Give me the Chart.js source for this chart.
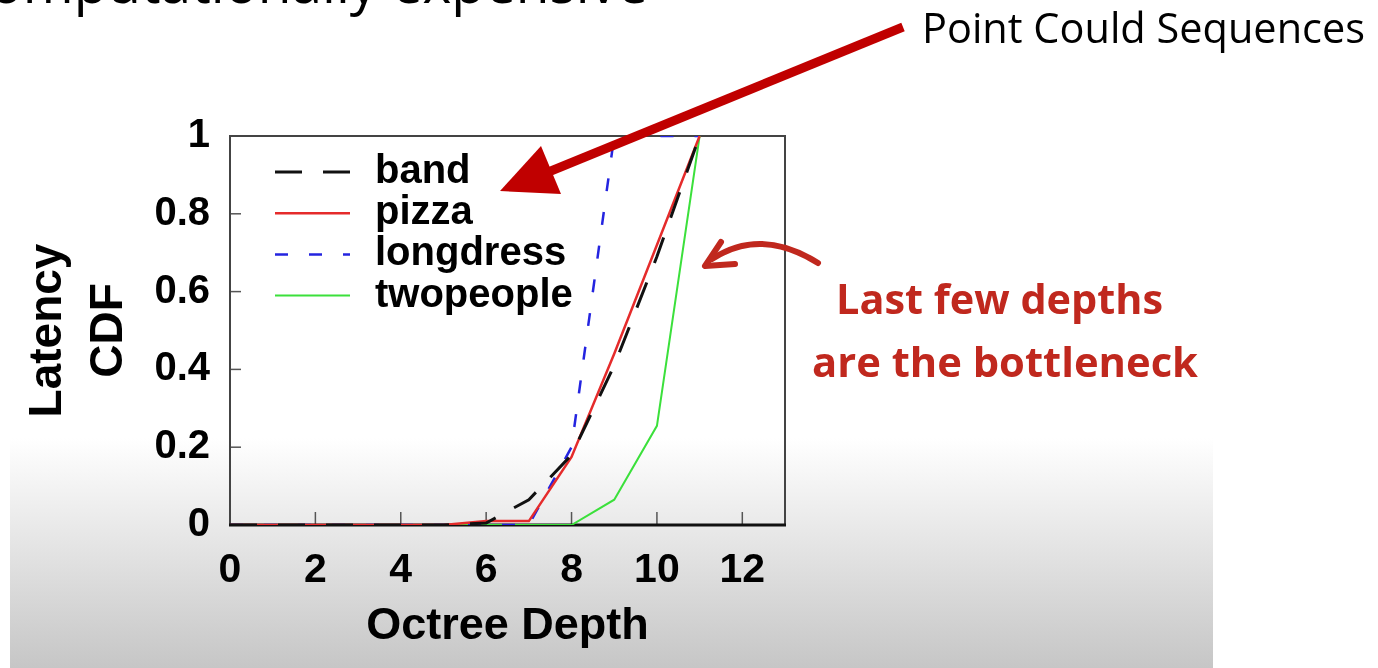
<!DOCTYPE html>
<html><head><meta charset="utf-8">
<script src="https://cdn.jsdelivr.net/npm/chart.js@4.4.1/dist/chart.umd.min.js"></script>
<style>
html,body{margin:0;padding:0;background:#fff;width:1378px;height:668px;overflow:hidden}
#bg{position:absolute;left:10px;top:438px;width:1203px;height:230px;background:linear-gradient(#ffffff,#c6c6c6)}
#wrap{position:absolute;left:0;top:0;width:1378px;height:668px}
#ov{position:absolute;left:0;top:0;pointer-events:none}
</style></head><body>
<div id="bg"></div>
<div id="wrap"><canvas id="c" width="1378" height="668"></canvas></div>
<svg id="ov" width="1378" height="668" xmlns="http://www.w3.org/2000/svg">
  <text x="-45" y="3" font-family="Open Sans, sans-serif" font-size="56" fill="#000" textLength="693" lengthAdjust="spacingAndGlyphs">Computationally expensive</text>
  <text x="922" y="43" font-family="Open Sans, sans-serif" font-size="42" fill="#000" textLength="443" lengthAdjust="spacingAndGlyphs">Point Could Sequences</text>
  <text x="836" y="314" font-family="Open Sans, sans-serif" font-weight="bold" font-size="41" fill="#c0281e" textLength="327" lengthAdjust="spacingAndGlyphs">Last few depths</text>
  <text x="812" y="377" font-family="Open Sans, sans-serif" font-weight="bold" font-size="41" fill="#c0281e" textLength="386" lengthAdjust="spacingAndGlyphs">are the bottleneck</text>
  <line x1="903" y1="27" x2="546" y2="173" stroke="#c00000" stroke-width="9"/>
  <polygon points="500,191 541,146 561,194" fill="#c00000"/>
  <path d="M818,263 Q761,227 712,259" stroke="#c0281e" stroke-width="6" fill="none" stroke-linecap="round"/>
  <polyline points="721,242 705,266 735,264" stroke="#c0281e" stroke-width="6" fill="none" stroke-linecap="round" stroke-linejoin="round"/>
</svg>
<script>
// ---- data ----
const depths     = [0, 1, 2, 3, 4, 5, 6, 7, 8, 9, 10, 11];
const band       = [0, 0, 0, 0, 0, 0, 0.005, 0.065, 0.18, 0.41, 0.69, 1];
const pizza      = [0, 0, 0, 0, 0, 0, 0.01, 0.01, 0.175, 0.44, 0.72, 1];
const longdress  = [0, 0, 0, 0, 0, 0, 0, 0, 0.2, 1, 1, 1];
const twopeople  = [0, 0, 0, 0, 0, 0, 0, 0, 0, 0.065, 0.255, 1];
const seriesNames = ['band', 'pizza', 'longdress', 'twopeople'];
const xTickValues = [0, 2, 4, 6, 8, 10, 12];
const yTickLabels = ['0', '0.2', '0.4', '0.6', '0.8', '1'];
const xTitle = 'Octree Depth';
const yTitle = ['Latency', 'CDF'];

const FONT = '"Liberation Sans", Arial, Helvetica, sans-serif';
const toPts = arr => arr.map((v, i) => ({x: depths[i], y: v}));

const framePlugin = {
  id: 'frame',
  beforeDatasetsDraw(chart) {
    const {ctx, chartArea: {left, right, top, bottom}, scales: {x, y}} = chart;
    ctx.save();
    ctx.strokeStyle = '#555'; ctx.lineWidth = 1.5;
    x.ticks.forEach(t => {
      const px = x.getPixelForValue(t.value);
      if (px > left + 2 && px < right - 2) { ctx.beginPath(); ctx.moveTo(px, bottom); ctx.lineTo(px, bottom - 13); ctx.stroke(); }
    });
    y.ticks.forEach(t => {
      const py = y.getPixelForValue(t.value);
      if (py > top + 2 && py < bottom - 2) { ctx.beginPath(); ctx.moveTo(left, py); ctx.lineTo(left + 11, py); ctx.stroke(); }
    });
    ctx.strokeStyle = '#444'; ctx.lineWidth = 2;
    ctx.strokeRect(left, top, right - left, bottom - top);
    ctx.strokeStyle = '#111'; ctx.lineWidth = 3;
    ctx.beginPath(); ctx.moveTo(left - 1, bottom); ctx.lineTo(right + 1, bottom); ctx.stroke();
    ctx.restore();
  }
};

const legendPlugin = {
  id: 'insideLegend',
  afterDatasetsDraw(chart) {
    const {ctx, chartArea} = chart;
    chart.data.datasets.forEach((ds, i) => {
      const yy = chartArea.top + 36 + i * 41.2;
      ctx.save();
      ctx.strokeStyle = ds.borderColor; ctx.lineWidth = ds.borderWidth;
      ctx.setLineDash(ds.borderDash || []);
      ctx.beginPath(); ctx.moveTo(chartArea.left + 45, yy); ctx.lineTo(chartArea.left + 120, yy); ctx.stroke();
      ctx.setLineDash([]);
      ctx.fillStyle = '#000';
      ctx.font = 'bold 40px ' + FONT;
      ctx.textBaseline = 'middle'; ctx.textAlign = 'left';
      ctx.fillText(ds.label, chartArea.left + 145, yy);
      ctx.restore();
    });
  }
};

new Chart(document.getElementById('c'), {
  type: 'line',
  data: {
    datasets: [
      {label: seriesNames[0], data: toPts(band), borderColor: '#111111', borderWidth: 3, borderDash: [27, 21]},
      {label: seriesNames[1], data: toPts(pizza), borderColor: '#e52b2b', borderWidth: 2.5},
      {label: seriesNames[2], data: toPts(longdress), borderColor: '#2424e0', borderWidth: 2.5, borderDash: [13, 21]},
      {label: seriesNames[3], data: toPts(twopeople), borderColor: '#3be03b', borderWidth: 2}
    ]
  },
  options: {
    responsive: false,
    animation: false,
    devicePixelRatio: 1,
    elements: {point: {radius: 0}, line: {tension: 0, fill: false}},
    layout: {padding: {left: 0, top: 136, right: 593, bottom: 0}},
    plugins: {legend: {display: false}, tooltip: {enabled: false}},
    scales: {
      x: {
        type: 'linear', min: 0, max: 13,
        afterFit: s => { s.height = 143; },
        afterBuildTicks: s => { s.ticks = xTickValues.map(v => ({value: v})); },
        ticks: {stepSize: 2, includeBounds: false, padding: 21, color: '#000',
          font: {family: FONT, size: 41, weight: 'bold', lineHeight: 1.2}},
        grid: {display: false, drawTicks: false},
        border: {display: false},
        title: {display: true, text: xTitle, color: '#000',
          font: {family: FONT, size: 45, weight: 'bold', lineHeight: 1.2}, padding: {top: 0, bottom: 14}}
      },
      y: {
        type: 'linear', min: 0, max: 1,
        afterFit: s => { s.width = 230; },
        ticks: {stepSize: 0.2, padding: 20, color: '#000',
          callback: (v, i) => yTickLabels[i],
          font: {family: FONT, size: 40, weight: 'bold', lineHeight: 1.2}},
        grid: {display: false, drawTicks: false},
        border: {display: false},
        title: {display: true, text: yTitle, color: '#000',
          font: {family: FONT, size: 46, weight: 'bold', lineHeight: 1.33}, padding: {top: 18, bottom: 0}}
      }
    }
  },
  plugins: [framePlugin, legendPlugin]
});
</script>
</body></html>
